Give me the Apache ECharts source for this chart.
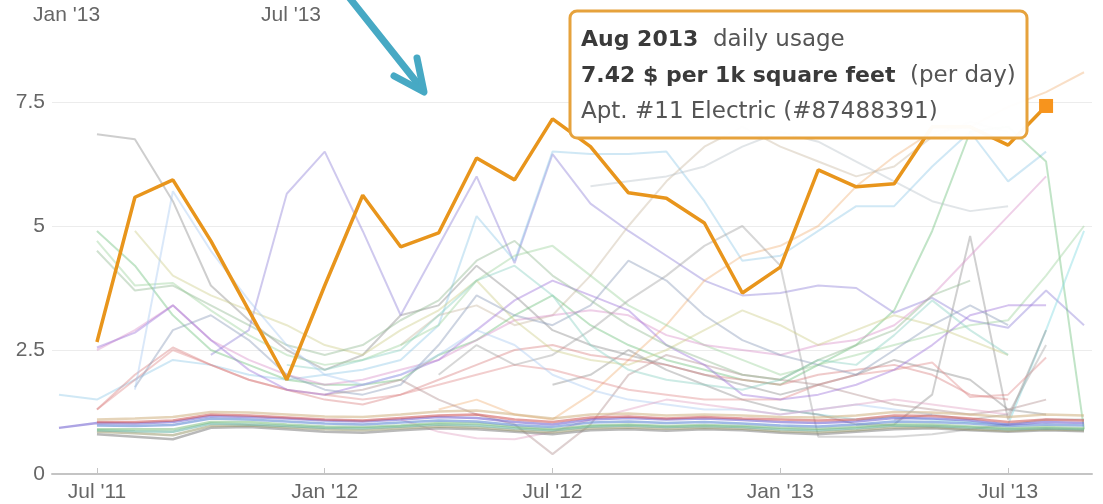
<!DOCTYPE html>
<html>
<head>
<meta charset="utf-8">
<script src="https://cdn.jsdelivr.net/npm/echarts@6/dist/echarts.min.js"></script>
<style>
  html, body { margin: 0; padding: 0; background: #fff; }
  #usage { width: 1103px; height: 504px; }
</style>
</head>
<body>
<div id="usage"></div>
<script>
// months, index 0 = Jun 2011 ... 27 = Sep 2013
const months = ['Jun 2011', 'Jul 2011', 'Aug 2011', 'Sep 2011', 'Oct 2011', 'Nov 2011', 'Dec 2011',
  'Jan 2012', 'Feb 2012', 'Mar 2012', 'Apr 2012', 'May 2012', 'Jun 2012', 'Jul 2012', 'Aug 2012',
  'Sep 2012', 'Oct 2012', 'Nov 2012', 'Dec 2012', 'Jan 2013', 'Feb 2013', 'Mar 2013', 'Apr 2013',
  'May 2013', 'Jun 2013', 'Jul 2013', 'Aug 2013', 'Sep 2013'];
const tickMonths = [1, 7, 13, 19, 25];
const tickLabels = ["Jul '11", "Jan '12", "Jul '12", "Jan '13", "Jul '13"];
const yTicks = [0, 2.5, 5, 7.5];

// highlighted meter: Apt. #11 Electric
const apt11 = [null, 2.66, 5.58, 5.93, 4.7, 3.3, 1.9, 3.8, 5.62, 4.58, 4.86, 6.37, 5.93, 7.16, 6.6,
  5.67, 5.56, 5.06, 3.65, 4.17, 6.13, 5.79, 5.85, 7.0, 7.0, 6.63, 7.42, null];

// other meters (faint)
const m01 = [null, 6.85, 6.75, 5.5, 3.8, 3.1, 2.5, 2.1, 2.4, 3.2, 3.4, 4.2, 3.6, 2.9, 2.6, 2.4, 2.2, 2.0, 1.8, 1.6, 1.8, 2.0, 2.3, 2.1, 1.9, 1.3, 1.2, null];
const m02 = [null, null, null, null, 2.4, 2.9, 5.65, 6.5, 4.9, 3.2, 4.6, 6.0, 4.25, 6.45, 5.45, 4.9, 4.4, 3.9, 3.6, 3.65, 3.8, 3.75, 3.25, 3.55, 3.1, 2.95, 3.7, 3.0];
const m03 = [1.6, 1.5, 1.9, 2.3, 2.2, 2.0, 1.9, 2.0, 2.1, 2.3, 3.0, 5.2, 4.3, 6.5, 6.45, 6.45, 6.5, 5.5, 4.3, 4.4, 4.9, 5.4, 5.4, 6.2, 6.9, 5.9, 6.5, null];
const m04 = [null, null, null, null, null, null, null, null, null, null, 1.3, 1.5, 1.2, 1.1, 1.6, 2.3, 3.0, 3.9, 4.4, 4.6, 5.0, 5.8, 6.4, 6.9, 7.0, 7.4, 7.7, 8.1];
const m05 = [null, null, null, null, null, null, null, null, null, 2.6, 3.2, 3.4, 3.0, 3.2, 4.0, 5.0, 5.9, 6.6, 7.0, 6.6, 6.3, 6.0, 6.2, 6.8, 7.1, 6.9, null, null];
const m06 = [null, 4.9, 4.2, 3.2, 2.5, 2.2, 1.9, 1.8, 1.8, 1.9, 2.4, 2.7, 3.2, 3.6, 3.0, 2.6, 2.3, 2.1, 1.9, 1.8, 2.2, 2.6, 3.3, 4.9, 6.9, 7.0, 6.3, 0.9];
const m07 = [null, 4.7, 3.8, 3.85, 3.3, 2.8, 2.4, 2.2, 2.3, 2.6, 3.0, 3.9, 4.4, 4.6, 4.0, 3.4, 3.0, 2.6, 2.3, 2.0, 2.2, 2.4, 2.6, 2.8, 3.0, 3.1, 4.0, 5.0];
const m08 = [null, null, null, null, null, null, null, null, null, null, null, null, null, null, null, null, null, null, null, 1.3, 1.2, 1.1, 1.15, 1.1, 1.05, 1.0, 2.9, 4.9];
const m09 = [null, null, null, null, null, null, null, null, null, null, null, null, null, 1.8, 2.0, 2.5, 2.1, 1.8, 1.5, 1.3, 1.2, 1.0, 1.0, 1.6, 4.8, 1.1, 2.9, null];
const m10 = [null, 1.3, 1.9, 2.5, 2.2, 1.9, 1.7, 1.6, 1.5, 1.6, 1.8, 2.0, 2.2, 2.1, 1.9, 1.7, 1.6, 1.5, 1.5, 1.5, 1.8, 2.0, 2.1, 2.25, 1.55, 1.6, 2.35, null];
const m11 = [null, null, null, null, null, null, null, null, null, null, 2.0, 2.6, 2.2, 2.4, 2.9, 3.5, 4.0, 4.6, 5.0, 4.2, 0.75, 0.75, 0.75, 0.8, 0.9, 1.0, 1.1, 1.1];
const m12 = [null, null, null, null, null, null, null, 1.6, 1.7, 1.9, 1.5, 1.2, 1.0, 0.4, 1.0, 2.0, 2.4, 2.2, 2.0, 1.9, 1.8, 1.6, 1.4, 1.3, 1.2, 1.3, 1.5, null];
const m13 = [null, 2.5, 2.9, 3.4, 2.7, 2.3, 2.0, 1.8, 1.9, 2.1, 2.3, 2.7, 3.1, 3.2, 3.3, 3.2, 2.8, 2.6, 2.5, 2.4, 2.6, 2.7, 3.0, 3.6, 4.4, 5.2, 6.0, null];
const m14 = [null, 1.3, 2.0, 2.55, 2.2, 1.9, 1.7, 1.5, 1.4, 1.6, 1.9, 2.2, 2.5, 2.6, 2.4, 2.3, 2.2, 2.0, 1.9, 1.8, 2.0, 2.1, 2.2, 2.0, 1.6, 1.5, null, null];
const m15 = [null, 2.55, 2.85, 3.4, 2.7, 2.1, 1.7, 1.6, 1.8, 2.0, 2.3, 2.9, 3.5, 3.9, 3.6, 3.3, 2.6, 2.2, 1.6, 1.5, 1.6, 1.8, 2.1, 2.6, 3.2, 3.4, 3.4, null];
const m16 = [null, null, 4.9, 4.0, 3.6, 3.3, 3.0, 2.6, 2.4, 2.9, 3.3, 3.9, 3.1, 2.5, 2.3, 2.2, 2.5, 2.9, 3.3, 3.0, 2.6, 2.9, 3.2, 3.0, 2.7, 2.4, null, null];
const m17 = [null, null, 1.75, 2.9, 3.2, 2.7, 2.0, 1.7, 1.6, 1.8, 2.6, 3.6, 3.2, 3.0, 3.4, 4.3, 3.9, 3.2, 2.7, 2.4, 2.2, 2.0, 2.5, 3.0, 3.4, 3.0, null, null];
const m18 = [null, null, null, null, null, null, 2.2, 2.1, 2.3, 2.5, 3.2, 3.9, 4.2, 3.6, 2.6, 2.1, 1.9, 1.8, 1.7, 1.9, 2.3, 2.2, 2.8, 3.5, 2.9, 2.4, null, null];
const m19 = [null, null, null, null, null, null, null, null, null, null, null, null, null, null, 5.8, 5.9, 6.0, 6.2, 6.6, 6.9, 6.7, 6.3, 5.9, 5.5, 5.3, 5.4, null, null];
const m20 = [null, 4.5, 3.7, 3.8, 3.4, 3.0, 2.6, 2.4, 2.6, 3.1, 3.5, 4.3, 4.7, 4.0, 3.5, 3.0, 2.6, 2.3, 2.0, 1.9, 2.3, 2.6, 2.9, 3.6, 3.9, null, null, null];
const m21 = [null, null, 1.7, 5.7, 4.5, 3.5, 2.6, 2.0, 1.8, 2.0, 2.4, 2.9, 2.6, 2.0, 1.7, 1.5, 1.4, 1.3, 1.3, 1.2, 1.3, 1.4, 1.3, 1.2, null, null, null, null];
const m22 = [null, null, null, null, null, null, null, null, null, 1.1, 0.85, 0.72, 0.7, 0.85, 1.1, 1.3, 1.5, 1.4, 1.3, 1.2, 1.3, 1.4, 1.5, 1.4, 1.3, 1.2, null, null];
const m23 = [null, null, null, null, null, null, null, null, null, null, null, null, null, null, null, null, null, null, null, null, null, null, 1.1, 1.2, 1.1, 1.2, 2.6, null];

// meters close to 1
const b1 = [0.93, 1.03, 1.02, 1.05, 1.17, 1.15, 1.12, 1.08, 1.06, 1.10, 1.15, 1.13, 1.05, 1.00, 1.10, 1.13, 1.10, 1.12, 1.09, 1.05, 1.03, 1.06, 1.13, 1.12, 1.08, 1.00, 1.05, 1.03];
const b2 = [null, 1.05, 1.05, 1.08, 1.20, 1.18, 1.14, 1.10, 1.08, 1.13, 1.18, 1.20, 1.10, 1.05, 1.14, 1.16, 1.12, 1.15, 1.12, 1.10, 1.08, 1.10, 1.18, 1.17, 1.12, 1.05, 1.10, 1.08];
const b3 = [null, 0.80, 0.75, 0.70, 0.93, 0.95, 0.90, 0.85, 0.83, 0.88, 0.92, 0.90, 0.85, 0.80, 0.88, 0.90, 0.87, 0.90, 0.88, 0.83, 0.80, 0.85, 0.90, 0.92, 0.88, 0.85, 0.88, 0.86];
const b4 = [null, 0.88, 0.86, 0.85, 1.02, 1.00, 0.97, 0.93, 0.92, 0.96, 1.00, 0.98, 0.92, 0.88, 0.96, 0.98, 0.95, 0.97, 0.95, 0.90, 0.88, 0.92, 0.98, 0.97, 0.94, 0.90, 0.92, 0.90];
const b5 = [null, 0.98, 0.97, 0.99, 1.12, 1.10, 1.06, 1.02, 1.00, 1.04, 1.08, 1.06, 0.99, 0.95, 1.04, 1.06, 1.03, 1.05, 1.02, 0.98, 0.96, 1.00, 1.06, 1.05, 1.02, 0.97, 1.00, 0.98];
const b6 = [null, 1.10, 1.12, 1.15, 1.25, 1.24, 1.20, 1.16, 1.15, 1.20, 1.26, 1.28, 1.20, 1.12, 1.20, 1.22, 1.18, 1.20, 1.18, 1.15, 1.14, 1.18, 1.25, 1.24, 1.20, 1.15, 1.20, 1.18];
const b7 = [null, 0.85, 0.82, 0.78, 0.97, 0.98, 0.94, 0.90, 0.88, 0.92, 0.96, 0.94, 0.88, 0.84, 0.92, 0.94, 0.91, 0.93, 0.91, 0.86, 0.84, 0.88, 0.94, 0.95, 0.90, 0.87, 0.90, 0.88];
const b8 = [null, 0.90, 0.90, 0.90, 1.05, 1.05, 1.00, 0.96, 0.95, 0.98, 1.03, 1.02, 0.95, 0.90, 0.98, 1.00, 0.97, 0.99, 0.97, 0.93, 0.91, 0.95, 1.00, 1.00, 0.96, 0.92, 0.95, 0.92];

const faint = [
  [m01, '#8a8a8a'], [m02, '#8c7fd6'], [m03, '#8fc8e8'], [m04, '#f0b27a'], [m05, '#c8b8a0'],
  [m06, '#6cbf7a'], [m07, '#9ad29a'], [m08, '#7fd8e0'], [m09, '#909090'], [m10, '#e08a8a'],
  [m11, '#a0a0a0'], [m12, '#b09090'], [m13, '#d890c8'], [m14, '#d98080'], [m15, '#9a70d8'],
  [m16, '#cccc88'], [m17, '#8898b8'], [m18, '#88d0c0'], [m19, '#b8c0c8'], [m20, '#8fb88f'],
  [m21, '#a8c8f0'], [m22, '#e0a0c0'], [m23, '#a8a8a8']
];
const bottom = [
  [b3, '#808080'], [b7, '#9a9a70'], [b4, '#60b0a0'], [b8, '#80c080'],
  [b5, '#5080d0'], [b1, '#6a5acd'], [b2, '#d05050'], [b6, '#d0b080']
];

function toPoints(vals) {
  return vals.map((v, i) => (v == null ? null : [i, v])).filter(p => p);
}

const axisFont = "'Liberation Sans', Arial, sans-serif";
const tipFont = "'DejaVu Sans', sans-serif";
const series = [];
faint.forEach(([vals, color]) => {
  series.push({
    type: 'line', data: toPoints(vals), symbol: 'none', silent: true,
    lineStyle: { color: color, width: 2, opacity: 0.42 }
  });
});
bottom.forEach(([vals, color]) => {
  series.push({
    type: 'line', data: toPoints(vals), symbol: 'none', silent: true,
    lineStyle: { color: color, width: 2.5, opacity: 0.55 }
  });
});
const aptPoints = toPoints(apt11);
const last = aptPoints.pop();
aptPoints.push({ value: last, symbol: 'rect', symbolSize: 14, itemStyle: { color: '#f7941d' } });
series.push({
  name: 'Apt. #11 Electric', type: 'line', data: aptPoints, symbol: 'none', showSymbol: true,
  z: 5, lineStyle: { color: '#e8951c', width: 3.5 }
});

var chartDom = document.getElementById('usage');
var myChart = echarts.init(chartDom, null, { renderer: 'canvas' });
var option = {
  animation: false,
  grid: { left: 52, right: 11, top: 0, bottom: 30 },
  xAxis: {
    type: 'value', min: -0.184, max: 27.21,
    axisLine: { show: true, onZero: false, lineStyle: { color: '#c4c4c4', width: 2 } },
    axisTick: { show: true, inside: true, length: 6, customValues: tickMonths, lineStyle: { color: '#c4c4c4' } },
    axisLabel: {
      customValues: tickMonths, margin: 8, color: '#666', fontSize: 21, fontFamily: axisFont,
      formatter: v => tickLabels[tickMonths.indexOf(Math.round(v))] || ''
    },
    splitLine: { show: false }
  },
  yAxis: {
    type: 'value', min: 0, max: 474 / 49.6, interval: 2.5,
    axisLine: { show: false }, axisTick: { show: false },
    axisLabel: {
      color: '#666', fontSize: 21, fontFamily: axisFont, align: 'right', margin: 7,
      showMaxLabel: false,
      formatter: v => (yTicks.indexOf(v) >= 0 ? String(v) : '')
    },
    splitLine: { showMaxLine: false, lineStyle: { color: '#ececec', width: 1 } }
  },
  graphic: [
    { type: 'text', left: 33, top: 5, style: { text: "Jan '13", fill: '#666', font: '21px ' + axisFont } },
    { type: 'text', left: 261, top: 5, style: { text: "Jul '13", fill: '#666', font: '21px ' + axisFont } },
    { type: 'line', shape: { x1: 348, y1: -4, x2: 422, y2: 89 },
      style: { stroke: '#47a9c4', lineWidth: 7, lineCap: 'round' } },
    { type: 'polyline', shape: { points: [[394, 76], [424, 92], [417, 58]] },
      style: { stroke: '#47a9c4', lineWidth: 7, lineCap: 'round', lineJoin: 'round', fill: null } },
    { type: 'rect', z: 20, shape: { x: 570, y: 11, width: 457, height: 127, r: 7 },
      style: { fill: 'rgba(255,255,255,0.97)', stroke: '#e6a23c', lineWidth: 3 } },
    { type: 'text', z: 21, left: 581, top: 29,
      style: {
        text: '{b|Aug 2013}{n|  daily usage}\n{b|7.42 $ per 1k square feet}{n|  (per day)}\n{n|Apt. #11 Electric (#87488391)}',
        rich: {
          b: { fontFamily: tipFont, fontWeight: 'bold', fontSize: 22, fill: '#3a3a3a', lineHeight: 36 },
          n: { fontFamily: tipFont, fontSize: 23, fill: '#555', lineHeight: 36 }
        }
      }
    }
  ],
  series: series
};

option && myChart.setOption(option);
</script>
</body>
</html>
